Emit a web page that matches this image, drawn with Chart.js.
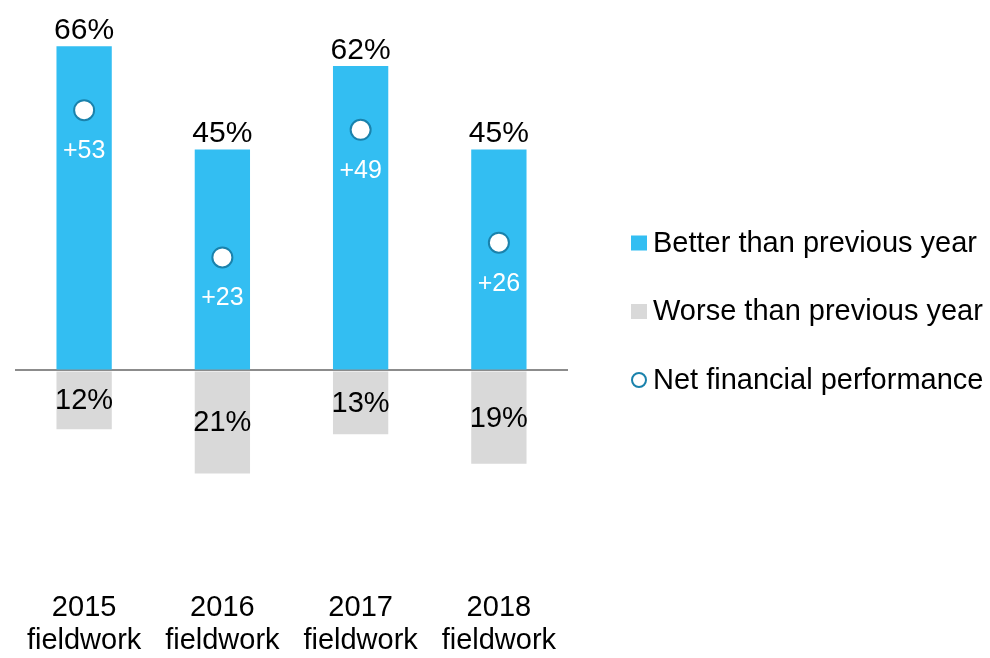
<!DOCTYPE html>
<html>
<head>
<meta charset="utf-8">
<script src="https://cdn.jsdelivr.net/npm/chart.js@4.4.1/dist/chart.umd.min.js"></script>
<style>
  html, body { margin: 0; padding: 0; background: #fff; }
  #wrap { width: 990px; height: 658px; position: relative; }
</style>
</head>
<body>
<div id="wrap"><canvas id="myChart"></canvas></div>
<script>
// --- chart data ---
const categories = [['2015', 'fieldwork'], ['2016', 'fieldwork'], ['2017', 'fieldwork'], ['2018', 'fieldwork']];
const betterValues = [66, 45, 62, 45];
const worseValues = [12, 21, 13, 19];
const netValues = [53, 23, 49, 26];
const seriesNames = ['Better than previous year', 'Worse than previous year', 'Net financial performance'];

const FONT = "'Liberation Sans', Arial, sans-serif";
const BLUE = '#33BEF2';
const GREY = '#D9D9D9';
const RING = '#1A82AC';

// value labels drawn on top of the marks
const valueLabels = {
    id: 'valueLabels',
    afterDatasetsDraw(chart) {
        const ctx = chart.ctx;
        ctx.save();
        ctx.textAlign = 'center';
        chart.data.datasets.forEach((ds, i) => {
            const meta = chart.getDatasetMeta(i);
            meta.data.forEach((el, j) => {
                const v = ds.data[j];
                if (i === 0) {
                    ctx.font = '30px ' + FONT;
                    ctx.fillStyle = '#000';
                    ctx.textBaseline = 'alphabetic';
                    ctx.fillText(v + '%', el.x, el.y - 7);
                } else if (i === 1) {
                    ctx.font = '29px ' + FONT;
                    ctx.fillStyle = '#000';
                    ctx.textBaseline = 'middle';
                    ctx.fillText(Math.abs(v) + '%', el.x, (el.y + el.base) / 2 + 1);
                } else {
                    ctx.font = '25px ' + FONT;
                    ctx.fillStyle = '#fff';
                    ctx.textBaseline = 'middle';
                    ctx.fillText('+' + v, el.x, el.y + 41);
                }
            });
        });
        ctx.restore();
    }
};

// legend on the right
const sideLegend = {
    id: 'sideLegend',
    afterDraw(chart) {
        const ctx = chart.ctx;
        const rows = [243, 311.5, 380];
        ctx.save();
        ctx.font = '29px ' + FONT;
        ctx.textBaseline = 'alphabetic';
        ctx.textAlign = 'left';
        chart.data.datasets.forEach((ds, i) => {
            const y = rows[i];
            if (ds.type === 'line') {
                ctx.beginPath();
                ctx.arc(639, y, 7, 0, Math.PI * 2);
                ctx.fillStyle = '#fff';
                ctx.fill();
                ctx.lineWidth = 2;
                ctx.strokeStyle = RING;
                ctx.stroke();
            } else {
                ctx.fillStyle = ds.backgroundColor;
                ctx.fillRect(631, y - 7.5, 16, 15);
            }
            ctx.fillStyle = '#000';
            ctx.fillText(ds.label, 653, y + 8.5);
        });
        ctx.restore();
    }
};

new Chart(document.getElementById('myChart'), {
    data: {
        labels: categories,
        datasets: [{
            type: 'bar',
            label: seriesNames[0],
            data: betterValues,
            backgroundColor: BLUE,
            grouped: false,
            barPercentage: 0.4,
            categoryPercentage: 1,
            order: 2
        }, {
            type: 'bar',
            label: seriesNames[1],
            data: worseValues.map(v => -v),
            backgroundColor: GREY,
            grouped: false,
            barPercentage: 0.4,
            categoryPercentage: 1,
            order: 2
        }, {
            type: 'line',
            label: seriesNames[2],
            data: netValues,
            showLine: false,
            pointRadius: 10,
            pointHoverRadius: 10,
            pointBackgroundColor: '#fff',
            pointBorderColor: RING,
            pointBorderWidth: 2,
            order: 0
        }]
    },
    options: {
        responsive: true,
        maintainAspectRatio: false,
        animation: false,
        layout: { padding: { left: 15, right: 422, top: 10, bottom: 0 } },
        plugins: {
            legend: { display: false },
            tooltip: { enabled: false }
        },
        scales: {
            x: {
                grid: { display: false, drawTicks: false },
                border: { display: false },
                ticks: {
                    color: '#000',
                    font: { family: FONT, size: 29, lineHeight: 1.15 },
                    padding: 0,
                    maxRotation: 0,
                    autoSkip: false
                }
            },
            y: {
                min: -45,
                max: 73,
                z: 1,
                border: { display: false },
                grid: {
                    drawTicks: false,
                    lineWidth: 2,
                    color: c => (c.tick && c.tick.value === 0 ? '#8C8C8C' : 'rgba(0,0,0,0)')
                },
                ticks: { display: false, stepSize: 10 }
            }
        }
    },
    plugins: [valueLabels, sideLegend]
});
</script>
</body>
</html>
